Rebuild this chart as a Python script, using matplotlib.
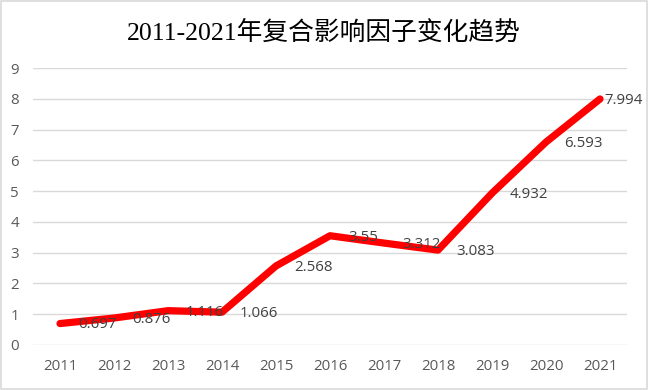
import matplotlib
matplotlib.use("Agg")
import matplotlib.pyplot as plt
from matplotlib.patches import Rectangle

years = ["2011", "2012", "2013", "2014", "2015", "2016", "2017", "2018", "2019", "2020", "2021"]
values = [0.697, 0.876, 1.116, 1.066, 2.568, 3.55, 3.312, 3.083, 4.932, 6.593, 7.994]
label_texts = ["0.697", "0.876", "1.116", "1.066", "2.568", "3.55", "3.312", "3.083", "4.932", "6.593", "7.994"]
yticks = [0, 1, 2, 3, 4, 5, 6, 7, 8, 9]

fig = plt.figure(figsize=(6.48, 3.90), dpi=100)
fig.patch.set_facecolor("white")
fig.add_artist(Rectangle((0.0015, 0.0025), 0.997, 0.995, transform=fig.transFigure,
                         fill=False, edgecolor="#D9D9D9", linewidth=1.2))

ax = fig.add_axes([33 / 648, 1 - 345 / 390, (627 - 33) / 648, (345 - 68) / 390])
x = list(range(len(years)))
ax.plot(x, values, color="#FF0000", linewidth=5.2, solid_joinstyle="round",
        solid_capstyle="round", zorder=3)

n = len(values)
for i, (xi, v, t) in enumerate(zip(x, values, label_texts)):
    off = 3 if i == n - 1 else 13
    ax.annotate(t, (xi, v), xytext=(off, -1), textcoords="offset points",
                ha="left", va="center", fontsize=10.8, color="#404040",
                family=["Open Sans"], zorder=4, annotation_clip=False)

ax.set_xlim(-0.5, len(years) - 0.5)
ax.set_ylim(0, 9)
ax.set_yticks(yticks)
ax.set_yticklabels([str(v) for v in yticks])
ax.set_xticks(x)
ax.set_xticklabels(years)
ax.grid(axis="y", color="#D9D9D9", linewidth=1.0)
ax.set_axisbelow(True)
for s in ax.spines.values():
    s.set_visible(False)
ax.tick_params(axis="both", length=0, labelsize=10.8, labelcolor="#595959")
ax.tick_params(axis="y", pad=10)
ax.tick_params(axis="x", pad=10)
for lab in ax.get_xticklabels() + ax.get_yticklabels():
    lab.set_family(["Open Sans"])

fig.text(0.5, 1 - 32 / 390, "2011-2021年复合影响因子变化趋势", ha="center", va="center",
         fontsize=18.5, color="#000000", family=["Liberation Serif", "Noto Sans CJK SC"])

fig.savefig("out.png", dpi=100)
